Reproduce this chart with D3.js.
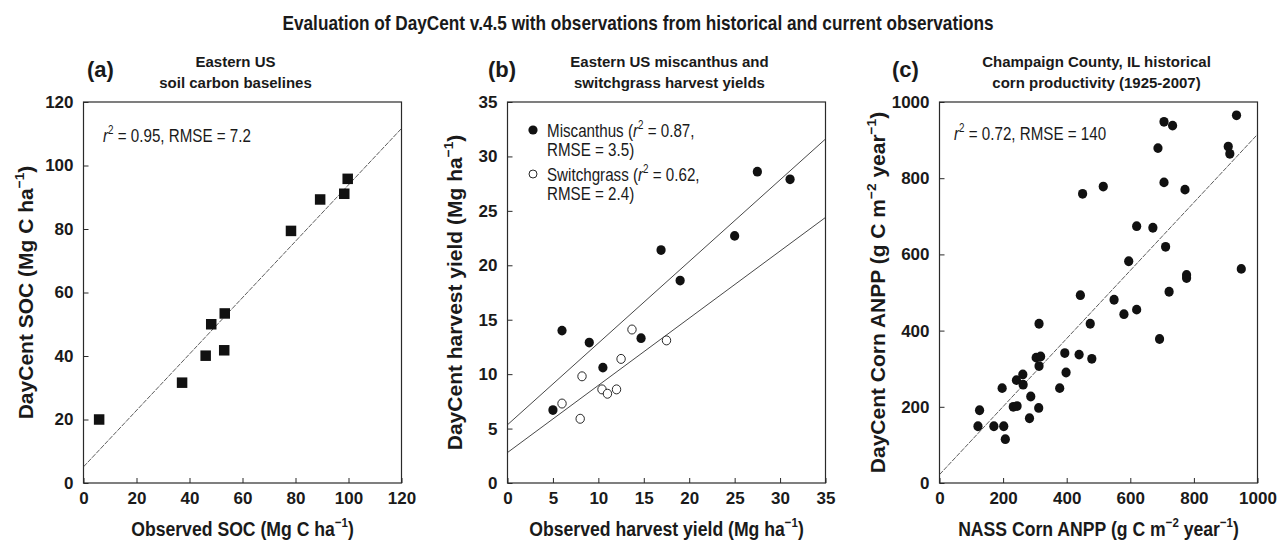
<!DOCTYPE html>
<html>
<head>
<meta charset="utf-8">
<script src="https://cdn.jsdelivr.net/npm/d3@7"></script>
<style>
  body { margin: 0; background: #fff; }
  svg text { font-family: "Liberation Sans", Arial, sans-serif; fill: #1a1a1a; }
</style>
</head>
<body>
<svg id="fig"></svg>
<script>
// ---- data -----------------------------------------------------------

// (a) soil carbon baselines
const socObserved = [5.9, 37.2, 46.1, 48.2, 53.1, 53.3, 78.3, 89.3, 98.4, 99.7];
const socDaycent  = [20.0, 31.6, 40.1, 50.0, 41.8, 53.4, 79.4, 89.3, 91.1, 95.8];
const socFit = [5.1, 0.888];            // intercept, slope

// (b) harvest yields
const miscObserved = [5.0, 6.0, 9.0, 10.5, 14.7, 16.9, 19.0, 25.0, 27.5, 31.1];
const miscDaycent  = [6.7, 14.0, 12.9, 10.6, 13.3, 21.4, 18.6, 22.7, 28.6, 27.9];
const switchObserved = [6.0, 8.0, 8.2, 10.4, 11.0, 12.0, 12.5, 13.7, 17.5];
const switchDaycent  = [7.3, 5.9, 9.8, 8.6, 8.2, 8.6, 11.4, 14.1, 13.1];
const miscFit = [5.35, 0.75];
const switchFit = [2.8, 0.617];

// (c) Champaign County corn ANPP
const nassAnpp = [934, 706, 733, 687, 908, 913, 706, 515, 450, 772,
                  620, 671, 711, 595, 949, 777, 777, 722, 443, 549,
                  580, 620, 474, 313, 692, 394, 439, 479, 304, 318,
                  313, 398, 262, 242, 263, 378, 197, 287, 232, 244,
                  312, 126, 283, 121, 171, 202, 207];
const daycentAnpp = [965, 948, 938, 879, 883, 864, 789, 778, 759, 770,
                     674, 670, 620, 582, 562, 546, 538, 502, 493, 481,
                     443, 455, 418, 418, 378, 341, 337, 326, 329, 332,
                     307, 290, 285, 270, 258, 249, 249, 227, 200, 202,
                     197, 191, 170, 149, 149, 149, 115];
const cornFit = [22, 0.893];

const socTicks   = [0, 20, 40, 60, 80, 100, 120];
const yieldTicks = [0, 5, 10, 15, 20, 25, 30, 35];
const anppTicks  = [0, 200, 400, 600, 800, 1000];

const mainTitle = 'Evaluation of DayCent v.4.5 with observations from historical and current observations';

// ---- layout -----------------------------------------------------------
const W = 1277, H = 543;
const plotTop = 102, plotBottom = 483, pw = 318;

const svg = d3.select('#fig').attr('width', W).attr('height', H);

// condensed text: the original uses a narrow face, squeeze Liberation Sans
function narrowText(parent, x, y, k) {
  return parent.append('text')
    .attr('transform', `translate(${x},${y}) scale(${k},1)`);
}

narrowText(svg, 638, 30, 0.82)
  .attr('text-anchor', 'middle')
  .style('font-size', '21px').style('font-weight', 'bold')
  .text(mainTitle);

// text with superscripts: parts = [[str, sup?], ...]
function richText(sel, fs, parts) {
  let up = false;
  for (const [s, sup] of parts) {
    const t = sel.append('tspan').text(s);
    if (sup && !up) t.attr('dy', -fs*0.42);
    if (!sup && up) t.attr('dy', fs*0.42);
    if (sup) t.style('font-size', (fs*0.65) + 'px');
    if (s === 'r') t.style('font-style', 'italic');
    up = !!sup;
  }
  return sel;
}

function panel(p) {
  const x0 = p.left, x1 = p.left + pw;
  const sx = d3.scaleLinear().domain(p.domain).range([x0, x1]);
  const sy = d3.scaleLinear().domain(p.domain).range([plotBottom, plotTop]);
  const g = svg.append('g');

  const ax = d3.axisBottom(sx).tickValues(p.ticks).tickFormat(d3.format('d'))
    .tickSizeInner(-5).tickSizeOuter(0).tickPadding(9);
  const ay = d3.axisLeft(sy).tickValues(p.ticks).tickFormat(d3.format('d'))
    .tickSizeInner(-5).tickSizeOuter(0).tickPadding(10);
  for (const [axis, tr] of [[ax, `translate(0,${plotBottom})`], [ay, `translate(${x0},0)`]]) {
    const a = g.append('g').attr('transform', tr).call(axis);
    a.select('.domain').remove();
    a.selectAll('line').attr('stroke', '#2a2a2a').attr('stroke-width', 1);
    a.selectAll('text')
      .style('font-family', '"Liberation Sans", Arial, sans-serif')
      .style('font-size', '17px').style('font-weight', 'bold').attr('fill', '#1a1a1a');
  }

  // frame
  g.append('rect')
    .attr('x', x0).attr('y', plotTop).attr('width', pw).attr('height', plotBottom - plotTop)
    .attr('fill', 'none').attr('stroke', '#2a2a2a').attr('stroke-width', 1.2);

  // regression lines
  for (const f of p.fits) {
    g.append('line')
      .attr('x1', sx(p.domain[0])).attr('y1', sy(f.c[0] + f.c[1]*p.domain[0]))
      .attr('x2', sx(p.domain[1])).attr('y2', sy(f.c[0] + f.c[1]*p.domain[1]))
      .attr('stroke', '#333').attr('stroke-width', f.dash ? 0.8 : 0.9)
      .attr('stroke-dasharray', f.dash || null);
  }

  // points
  for (const s of p.series) {
    const pts = s.x.map((v, i) => [v, s.y[i]]);
    if (s.shape === 'square') {
      g.append('g').selectAll('rect').data(pts).join('rect')
        .attr('x', d => sx(d[0]) - 5.25).attr('y', d => sy(d[1]) - 5.25)
        .attr('width', 10.5).attr('height', 10.5).attr('fill', '#111');
    } else {
      g.append('g').selectAll('ellipse').data(pts).join('ellipse')
        .attr('cx', d => sx(d[0])).attr('cy', d => sy(d[1]))
        .attr('rx', s.r).attr('ry', s.r + 0.3)
        .attr('fill', s.open ? '#fff' : '#111')
        .attr('stroke', '#111').attr('stroke-width', s.open ? 0.9 : 0);
    }
  }

  // panel letter + subtitle
  g.append('text').attr('x', p.letterX).attr('y', 77)
    .style('font-size', '22px').style('font-weight', 'bold').text(p.letter);
  p.subtitle.forEach((s, i) => {
    g.append('text').attr('x', (x0 + x1)/2 + p.subDx).attr('y', 67 + i*20.5)
      .attr('text-anchor', 'middle')
      .style('font-size', '15px').style('font-weight', 'bold').text(s);
  });

  // axis titles
  richText(narrowText(g, (x0 + x1)/2, 536, 0.84).attr('text-anchor', 'middle')
    .style('font-size', '21px').style('font-weight', 'bold'), 21, p.xTitle);
  richText(g.append('text')
    .attr('transform', `translate(${p.yTitleX},${(plotTop + plotBottom)/2}) rotate(-90)`)
    .attr('y', 7.5).attr('text-anchor', 'middle')
    .style('font-size', '21px').style('font-weight', 'bold'), 21, p.yTitle);

  // statistics / legend text
  for (const a of p.notes) {
    richText(narrowText(g, a.x, a.y, 0.82).style('font-size', '18.5px'), 18.5, a.parts);
  }
  for (const m of p.legend || []) {
    g.append('circle').attr('cx', m.cx).attr('cy', m.cy).attr('r', m.open ? 4 : 4.6)
      .attr('fill', m.open ? '#fff' : '#111').attr('stroke', '#111')
      .attr('stroke-width', m.open ? 0.9 : 0);
  }
}

panel({
  left: 83.5, domain: [0, 120], ticks: socTicks,
  letter: '(a)', letterX: 87, subDx: -7,
  subtitle: ['Eastern US', 'soil carbon baselines'],
  xTitle: [['Observed SOC (Mg C ha'], ['\u22121', true], [')']],
  yTitle: [['DayCent SOC (Mg C ha'], ['\u22121', true], [')']],
  yTitleX: 25,
  fits: [{ c: socFit, dash: '5,1.2' }],
  series: [{ x: socObserved, y: socDaycent, shape: 'square' }],
  notes: [{ x: 103, y: 142, parts: [['r'], ['2', true], [' = 0.95, RMSE = 7.2']] }]
});

panel({
  left: 507.5, domain: [0, 35], ticks: yieldTicks,
  letter: '(b)', letterX: 488, subDx: 3,
  subtitle: ['Eastern US miscanthus and', 'switchgrass harvest yields'],
  xTitle: [['Observed harvest yield (Mg ha'], ['\u22121', true], [')']],
  yTitle: [['DayCent harvest yield (Mg ha'], ['\u22121', true], [')']],
  yTitleX: 454,
  fits: [{ c: miscFit }, { c: switchFit }],
  series: [
    { x: miscObserved, y: miscDaycent, r: 4.6 },
    { x: switchObserved, y: switchDaycent, r: 4.2, open: true }
  ],
  notes: [
    { x: 547, y: 137, parts: [['Miscanthus ('], ['r'], ['2', true], [' = 0.87,']] },
    { x: 547, y: 155.5, parts: [['RMSE = 3.5)']] },
    { x: 547, y: 181, parts: [['Switchgrass ('], ['r'], ['2', true], [' = 0.62,']] },
    { x: 547, y: 199.5, parts: [['RMSE = 2.4)']] }
  ],
  legend: [{ cx: 533, cy: 130 }, { cx: 533, cy: 174, open: true }]
});

panel({
  left: 939.5, domain: [0, 1000], ticks: anppTicks,
  letter: '(c)', letterX: 892, subDx: -2,
  subtitle: ['Champaign County, IL historical', 'corn productivity (1925-2007)'],
  xTitle: [['NASS Corn ANPP (g C m'], ['\u22122', true], [' year'], ['\u22121', true], [')']],
  yTitle: [['DayCent Corn ANPP (g C m'], ['\u22122', true], [' year'], ['\u22121', true], [')']],
  yTitleX: 877,
  fits: [{ c: cornFit, dash: '5,1.2' }],
  series: [{ x: nassAnpp, y: daycentAnpp, r: 4.6 }],
  notes: [{ x: 954, y: 140, parts: [['r'], ['2', true], [' = 0.72, RMSE = 140']] }]
});
</script>
</body>
</html>
